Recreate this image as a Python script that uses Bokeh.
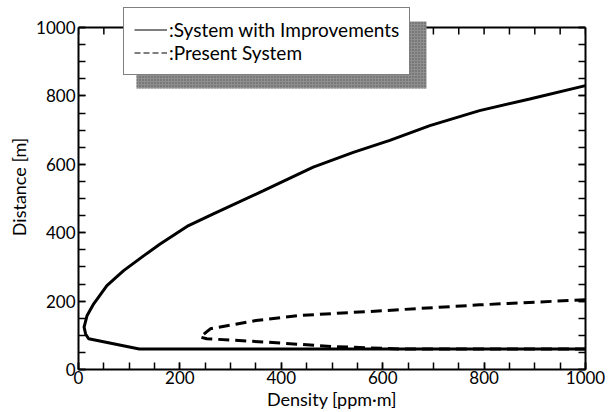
import numpy as np
from bokeh.plotting import figure
from bokeh.models import (Range1d, LinearAxis, SingleIntervalTicker, Legend, LegendItem,
                          ColumnDataSource, BoxAnnotation)
from bokeh.embed import file_html
from bokeh.resources import INLINE

# ---- data ----
improved_x = [1000, 890, 791, 693, 614, 542, 463, 365, 266, 217, 161, 129, 89, 56, 30, 17, 11, 14, 20, 120, 1000]
improved_y = [830, 791, 757, 713, 670, 635, 592, 523, 455, 421, 367, 333, 289, 245, 192, 158, 124, 104, 90, 60, 60]

present_x = [1000, 791, 601, 437, 350, 260, 240, 253, 371, 503, 634, 1000]
present_y = [204, 189, 172, 158, 143, 119, 95, 90, 80, 67, 60, 60]

x_min, x_max = 0, 1000
y_min, y_max = 0, 1000
tick_interval = 200
minor_step = 50
legend_labels = [":System with Improvements", ":Present System"]

FONT = "Lato"

# frame extended upward (headroom) so the legend box can overlap the top border
PX_PER_UNIT = 0.342
headroom = 23 / PX_PER_UNIT

p = figure(width=614, height=412, output_backend="svg", toolbar_location=None,
           x_range=Range1d(x_min, x_max), y_range=Range1d(y_min, y_max + headroom),
           min_border_left=78, min_border_right=29, min_border_top=4, min_border_bottom=43,
           x_axis_label="Density [ppm\u00b7m]", y_axis_label="Distance [m]")
p.outline_line_color = None
p.grid.visible = False
p.background_fill_color = "white"
p.border_fill_color = "white"

p.xaxis.ticker = SingleIntervalTicker(interval=tick_interval, num_minor_ticks=4)
p.yaxis.ticker = SingleIntervalTicker(interval=tick_interval, num_minor_ticks=4)

def style_axis(ax, labels=True):
    ax.axis_line_width = 2
    ax.axis_line_color = "black"
    ax.major_tick_in = 7
    ax.major_tick_out = 0
    ax.minor_tick_in = 7
    ax.minor_tick_out = 0
    ax.major_tick_line_width = 1.5
    ax.minor_tick_line_width = 1.5
    ax.major_tick_line_color = "black"
    ax.minor_tick_line_color = "black"
    if labels:
        ax.major_label_text_font = FONT
        ax.major_label_text_font_size = "17px"
        ax.major_label_text_color = "black"
        ax.axis_label_text_font = FONT
        ax.axis_label_text_font_size = "18px"
        ax.axis_label_text_font_style = "normal"
        ax.axis_label_text_color = "black"
    else:
        ax.major_label_text_font_size = "1px"
        ax.major_label_text_color = None
        ax.major_label_standoff = 0

for ax in p.xaxis:
    style_axis(ax)
    ax.major_label_standoff = 1
    ax.axis_label_standoff = 1
for ax in p.yaxis:
    style_axis(ax)
    ax.major_label_standoff = 3
    ax.axis_label_standoff = 3
    ax.bounds = (y_min, y_max)

right_axis = LinearAxis(ticker=SingleIntervalTicker(interval=tick_interval, num_minor_ticks=4),
                        bounds=(y_min, y_max))
style_axis(right_axis, labels=False)
p.add_layout(right_axis, "right")

# top border of the box with inward ticks (mirrors the bottom axis)
top_ticks = np.arange(x_min, x_max + minor_step, minor_step)
tick_len = 7 / PX_PER_UNIT
p.segment(x0=top_ticks, y0=[y_max] * len(top_ticks), x1=top_ticks, y1=[y_max - tick_len] * len(top_ticks),
          line_color="black", line_width=1.5)
p.segment(x0=[x_min], y0=[y_max], x1=[x_max], y1=[y_max], line_color="black", line_width=2)

src_imp = ColumnDataSource(dict(x=improved_x, y=improved_y))
src_pre = ColumnDataSource(dict(x=present_x, y=present_y))
p.line("x", "y", source=src_pre, line_width=3, line_color="black", line_dash="11 6")
p.line("x", "y", source=src_imp, line_width=3, line_color="black")

# legend sample renderers (thin lines, draw nothing in the plot)
nan = [float("nan")]
leg_solid = p.line(x=nan, y=nan, line_width=1.2, line_color="black")
leg_dash = p.line(x=nan, y=nan, line_width=1.2, line_color="black", line_dash="6 3")

# drop shadow of the legend box (screen px, relative to the frame's bottom-left)
shadow = BoxAnnotation(left=58, right=348, top=348, bottom=281,
                       left_units="screen", right_units="screen",
                       top_units="screen", bottom_units="screen",
                       fill_color="#8f8f8f", fill_alpha=1.0, line_color=None,
                       hatch_pattern="dot", hatch_color="#555555", hatch_scale=3, hatch_weight=1)
p.add_layout(shadow)

legend = Legend(items=[LegendItem(label=legend_labels[0], renderers=[leg_solid]),
                       LegendItem(label=legend_labels[1], renderers=[leg_dash])],
                location=(45, 294), orientation="vertical",
                border_line_color="black", border_line_width=1.5,
                background_fill_color="white", background_fill_alpha=1.0,
                label_text_font=FONT, label_text_font_size="19px", label_text_color="black",
                glyph_width=33, glyph_height=21, label_standoff=2, padding=10, spacing=0,
                margin=0, label_height=21)
p.add_layout(legend)

open("out.html", "w").write(file_html(p, INLINE))
